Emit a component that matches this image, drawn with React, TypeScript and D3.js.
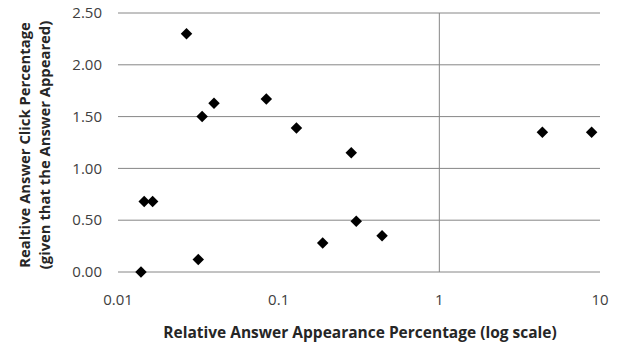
import React from "react";
import * as d3 from "d3";

const xValues = [0.0267, 0.0334, 0.0396, 0.0838, 0.129, 0.01456, 0.01643, 0.0139, 0.0316, 0.283, 0.188, 0.304, 0.44, 4.38, 8.87];
const yValues = [2.30, 1.50, 1.63, 1.67, 1.39, 0.68, 0.68, 0.0, 0.12, 1.15, 0.28, 0.49, 0.35, 1.35, 1.35];
const xTicks = [0.01, 0.1, 1, 10];
const xTickLabels = ["0.01", "0.1", "1", "10"];
const yTicks = [0, 0.5, 1, 1.5, 2, 2.5];

const xTitle = "Relative Answer Appearance Percentage (log scale)";
const yTitle1 = "Realtive Answer Click Percentage";
const yTitle2 = "(given that the Answer Appeared)";

export default function App() {
  const W = 620, H = 347;
  const x = d3.scaleLog().domain([0.01, 10]).range([118, 600]);
  const y = d3.scaleLinear().domain([0, 2.5]).range([272, 13]);
  const font = "'Open Sans', 'Noto Sans', sans-serif";
  const diamond = d3.symbol(d3.symbolSquare, 66)() as string;
  const data = xValues.map((v, i) => ({ x: v, y: yValues[i] }));
  return (
    <svg width={W} height={H} style={{ position: "absolute", left: 0, top: 0, background: "#fff" }}>
      <g>
        {yTicks.map((t) => (
          <line key={"g" + t} x1={x(0.01)} x2={x(10)} y1={y(t)} y2={y(t)} stroke="#868686" strokeWidth={1} />
        ))}
        <line x1={x(1)} x2={x(1)} y1={y(2.5)} y2={y(0)} stroke="#868686" strokeWidth={1} />
      </g>
      <g fontFamily={font} fontSize={15} fill="#404040">
        {yTicks.map((t) => (
          <text key={"yt" + t} x={102} y={y(t)} dy="0.35em" textAnchor="end">
            {d3.format(".2f")(t)}
          </text>
        ))}
        {xTicks.map((t, i) => (
          <text key={"xt" + t} x={x(t)} y={305} textAnchor="middle">
            {xTickLabels[i]}
          </text>
        ))}
      </g>
      <g>
        {data.map((d, i) => (
          <path key={i} d={diamond} transform={`translate(${x(d.x)},${y(d.y)}) rotate(45)`} fill="#000" />
        ))}
      </g>
      <text x={360} y={338} textAnchor="middle" fontFamily={font} fontSize={15.5} fontWeight="bold" fill="#262626">
        {xTitle}
      </text>
      <g transform="translate(0,145) rotate(-90)" fontFamily={font} fontSize={14.8} fontWeight="bold" fill="#262626">
        <text x={0} y={30} textAnchor="middle">{yTitle1}</text>
        <text x={0} y={50} textAnchor="middle">{yTitle2}</text>
      </g>
    </svg>
  );
}
